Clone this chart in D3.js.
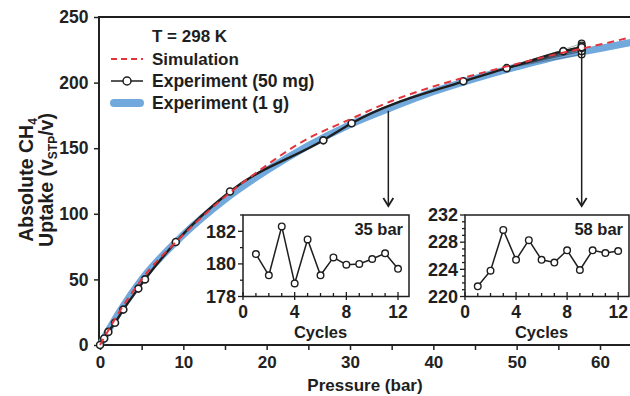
<!DOCTYPE html>
<html>
<head>
<meta charset="utf-8">
<script src="https://cdn.jsdelivr.net/npm/d3@7"></script>
<style>
  body { margin: 0; background: #fff; }
  svg { font-family: "Liberation Sans", Arial, sans-serif; font-weight: bold; }
  .axis text { fill: #222; font-weight: bold; }
  .axis path, .axis line { stroke: #222; }
</style>
</head>
<body>
<div id="chartContainer"></div>
<script>
// Simulation isotherm (pressure in bar, uptake in v/v)
const simP = [0, 2.5, 5, 10, 15, 20, 24, 30, 35, 40, 48, 55, 60, 64];
const simV = [0, 27, 50, 84, 113, 137, 154, 172, 186, 197, 211, 222, 229, 235];

// Experiment, 1 g sample
const bigP = [0, 2.5, 5, 10, 15, 20, 25, 30, 35, 40, 45, 50, 55, 60, 64];
const bigV = [0, 27, 50, 84, 111, 133, 152, 168, 181, 193, 203, 212, 220, 226, 231];

// Experiment, 50 mg sample
const expP = [0, 0.5, 1.0, 1.8, 2.8, 4.6, 5.4, 9.1, 15.6, 26.8, 30.2, 43.6, 48.8, 55.6, 57.8];
const expV = [0, 5, 10, 17, 27, 43, 50, 78.5, 117, 156, 169, 201, 211, 224, 227];

// Cycling insets
const cycles = [1, 2, 3, 4, 5, 6, 7, 8, 9, 10, 11, 12];
const cyc35 = [180.6, 179.3, 182.3, 178.8, 181.5, 179.3, 180.4, 179.95, 180.0, 180.3, 180.65, 179.7];
const cyc58 = [221.5, 223.8, 229.8, 225.4, 228.3, 225.4, 225.0, 226.8, 223.9, 226.8, 226.4, 226.7];

const xTicks = [0, 10, 20, 30, 40, 50, 60];
const yTicks = [0, 50, 100, 150, 200, 250];

const W = 630, H = 396;
const red = "#e3343b", blue = "#72a9dd", ink = "#1e1e1e";

const svg = d3.select("#chartContainer").append("svg")
  .attr("width", W).attr("height", H);

const x = d3.scaleLinear().domain([0, 63.6]).range([100, 630]);
const y = d3.scaleLinear().domain([0, 250]).range([345, 17]);

svg.append("clipPath").attr("id", "plotClip")
  .append("rect").attr("x", 96).attr("y", 10).attr("width", 534).attr("height", 340);

// axes
svg.append("g").attr("class", "axis")
  .attr("transform", "translate(0,345)")
  .call(d3.axisBottom(x).tickValues(d3.range(0, 64, 5)).tickSize(5)
    .tickFormat(d => xTicks.includes(d) ? d : ""))
  .call(g => g.select(".domain").attr("stroke-width", 2).attr("d", "M97,0H630"))
  .call(g => g.selectAll("line").attr("stroke-width", 1.5))
  .call(g => g.selectAll("text").attr("font-size", 17).attr("dy", "0.9em"));

svg.append("g").attr("class", "axis")
  .attr("transform", "translate(99,0)")
  .call(d3.axisLeft(y).tickValues(yTicks).tickSize(5))
  .call(g => g.select(".domain").attr("stroke-width", 2).attr("d", "M0,16V346"))
  .call(g => g.selectAll("line").attr("stroke-width", 1.5))
  .call(g => g.selectAll("text").attr("font-size", 17.5).attr("dx", "-0.15em"));

// top frame line
svg.append("line").attr("x1", 98).attr("x2", 630).attr("y1", 17).attr("y2", 17)
  .attr("stroke", ink).attr("stroke-width", 2);

// axis titles
svg.append("text").attr("x", 365).attr("y", 391).attr("text-anchor", "middle")
  .attr("font-size", 17).attr("fill", ink).text("Pressure (bar)");

const yl = svg.append("g").attr("transform", "translate(33,180) rotate(-90)");
const t1 = yl.append("text").attr("text-anchor", "middle").attr("font-size", 19.5).attr("fill", ink);
t1.append("tspan").text("Absolute CH");
t1.append("tspan").attr("font-size", 12).attr("dy", 4).text("4");
const t2 = yl.append("text").attr("text-anchor", "middle").attr("y", 20).attr("font-size", 19.5).attr("fill", ink);
t2.append("tspan").text("Uptake (v");
t2.append("tspan").attr("font-size", 12).attr("dy", 4).text("STP");
t2.append("tspan").attr("dy", -4).text("/v)");

// curves
const line = d3.line().x(d => x(d[0])).y(d => y(d[1])).curve(d3.curveMonotoneX);
const plot = svg.append("g").attr("clip-path", "url(#plotClip)");

plot.append("path").datum(bigP.map((p, i) => [p, bigV[i]]))
  .attr("d", line).attr("fill", "none").attr("stroke", blue)
  .attr("stroke-width", 7).attr("stroke-linecap", "round");

const expPts = expP.map((p, i) => [p, expV[i]]);

// fan of cycles towards 58 bar
const lastBase = expPts[12];
cycles.forEach((c, i) => {
  plot.append("path").datum([lastBase, [57.8, cyc58[i]]])
    .attr("d", d3.line().x(d => x(d[0])).y(d => y(d[1])))
    .attr("fill", "none").attr("stroke", ink).attr("stroke-width", 0.7).attr("opacity", 0.45);
});

plot.append("path").datum(expPts)
  .attr("d", line)
  .attr("fill", "none").attr("stroke", ink).attr("stroke-width", 2.4);

plot.selectAll(".exp58").data(cyc58).enter().append("circle")
  .attr("cx", x(57.8)).attr("cy", d => y(d)).attr("r", 3.3)
  .attr("fill", "#fff").attr("stroke", ink).attr("stroke-width", 1.3);

plot.selectAll(".exp").data(expPts).enter().append("circle")
  .attr("cx", d => x(d[0])).attr("cy", d => y(d[1])).attr("r", 3.5)
  .attr("fill", "#fff").attr("stroke", ink).attr("stroke-width", 1.6);

plot.append("path").datum(simP.map((p, i) => [p, simV[i]]))
  .attr("d", line).attr("fill", "none").attr("stroke", red)
  .attr("stroke-width", 2).attr("stroke-dasharray", "7,5");

// legend
const leg = svg.append("g");
leg.append("text").attr("x", 152).attr("y", 42).attr("font-size", 17).attr("fill", ink).text("T = 298 K");
leg.append("line").attr("x1", 111).attr("x2", 143).attr("y1", 59).attr("y2", 59)
  .attr("stroke", red).attr("stroke-width", 2).attr("stroke-dasharray", "6,4");
leg.append("text").attr("x", 152).attr("y", 65).attr("font-size", 17).attr("fill", ink).text("Simulation");
leg.append("line").attr("x1", 111).attr("x2", 143).attr("y1", 81).attr("y2", 81)
  .attr("stroke", ink).attr("stroke-width", 1.5);
leg.append("circle").attr("cx", 127).attr("cy", 81).attr("r", 4)
  .attr("fill", "#fff").attr("stroke", ink).attr("stroke-width", 1.5);
leg.append("text").attr("x", 152).attr("y", 87).attr("font-size", 17.5).attr("fill", ink).text("Experiment (50 mg)");
leg.append("line").attr("x1", 114).attr("x2", 140).attr("y1", 103).attr("y2", 103)
  .attr("stroke", blue).attr("stroke-width", 8).attr("stroke-linecap", "round");
leg.append("text").attr("x", 152).attr("y", 109).attr("font-size", 17.5).attr("fill", ink).text("Experiment (1 g)");

// arrows
function arrow(p, v) {
  const ax = x(p), y0 = y(v) + 2, y1 = 206;
  svg.append("line").attr("x1", ax).attr("x2", ax).attr("y1", y0).attr("y2", y1)
    .attr("stroke", ink).attr("stroke-width", 1.5);
  svg.append("path").attr("d", `M${ax - 5},${y1 - 8}L${ax},${y1}L${ax + 5},${y1 - 8}`)
    .attr("fill", "none").attr("stroke", ink).attr("stroke-width", 1.8);
}
arrow(34.6, 180);
arrow(57.8, 226);

// insets
function inset(x0, x1, yDom, yMajor, vals, label) {
  const ix = d3.scaleLinear().domain([0, 12.85]).range([x0, x1]);
  const iy = d3.scaleLinear().domain(yDom).range([296.5, 215]);
  const g = svg.append("g");
  g.append("rect").attr("x", x0).attr("y", 215).attr("width", x1 - x0).attr("height", 81.5)
    .attr("fill", "#fff").attr("stroke", ink).attr("stroke-width", 1.5);

  // x minor ticks (inside) and major ticks
  g.selectAll(".xm").data(d3.range(0, 13)).enter().append("line")
    .attr("x1", d => ix(d)).attr("x2", d => ix(d))
    .attr("y1", 296.5).attr("y2", d => d % 4 === 0 ? 292 : 293)
    .attr("stroke", ink).attr("stroke-width", 1.3);
  g.selectAll(".xM").data([0, 4, 8, 12]).enter().append("line")
    .attr("x1", d => ix(d)).attr("x2", d => ix(d)).attr("y1", 296.5).attr("y2", 300)
    .attr("stroke", ink).attr("stroke-width", 1.3);
  g.selectAll(".xl").data([0, 4, 8, 12]).enter().append("text")
    .attr("x", d => ix(d)).attr("y", 318).attr("text-anchor", "middle")
    .attr("font-size", 17.5).attr("fill", ink).text(d => d);

  // y ticks
  g.selectAll(".ym").data(d3.range(yDom[0], yDom[1] + 1)).enter().append("line")
    .attr("x1", x0).attr("x2", d => yMajor.includes(d) ? x0 - 5 : x0 - 3)
    .attr("y1", d => iy(d)).attr("y2", d => iy(d))
    .attr("stroke", ink).attr("stroke-width", 1.3);
  g.selectAll(".yl").data(yMajor).enter().append("text")
    .attr("x", x0 - 7).attr("y", d => iy(d)).attr("dy", "0.35em").attr("text-anchor", "end")
    .attr("font-size", 18).attr("fill", ink).text(d => d);

  g.append("text").attr("x", (ix(0) + ix(12)) / 2).attr("y", 338).attr("text-anchor", "middle")
    .attr("font-size", 16.5).attr("fill", ink).text("Cycles");
  g.append("text").attr("x", x1 - 6).attr("y", 235).attr("text-anchor", "end")
    .attr("font-size", 16.5).attr("fill", ink).text(label);

  g.append("path").datum(cycles.map((c, i) => [c, vals[i]]))
    .attr("d", d3.line().x(d => ix(d[0])).y(d => iy(d[1])))
    .attr("fill", "none").attr("stroke", ink).attr("stroke-width", 1.5);
  g.selectAll(".pt").data(cycles).enter().append("circle")
    .attr("cx", d => ix(d)).attr("cy", (d, i) => iy(vals[i])).attr("r", 3.3)
    .attr("fill", "#fff").attr("stroke", ink).attr("stroke-width", 1.4);
}
inset(243, 409, [178, 183], [178, 180, 182], cyc35, "35 bar");
inset(465, 629, [220, 232], [220, 224, 228, 232], cyc58, "58 bar");
</script>
</body>
</html>
